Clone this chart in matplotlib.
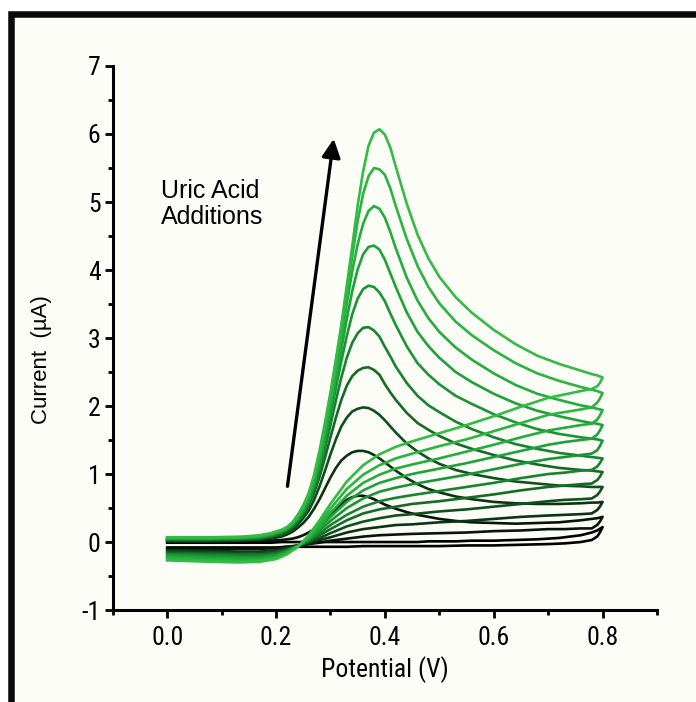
import matplotlib
matplotlib.use("Agg")
import matplotlib.pyplot as plt
import matplotlib.font_manager as fm
from matplotlib.patches import Rectangle
from matplotlib.ticker import MultipleLocator

# potential (V) for the forward and the reverse sweep
fwd_v = [0.00, 0.08, 0.14, 0.17, 0.19,
         0.21, 0.22, 0.23, 0.24, 0.25, 0.26, 0.27, 0.28, 0.29, 0.30, 0.31,
         0.32, 0.33, 0.34, 0.35, 0.36, 0.37, 0.38, 0.39, 0.40, 0.41, 0.42,
         0.44, 0.46, 0.48, 0.50,
         0.53, 0.56, 0.60, 0.64, 0.68, 0.72, 0.76,
         0.78, 0.79, 0.80]
rev_v = [0.80, 0.795, 0.79,
         0.78, 0.76, 0.73, 0.70, 0.65, 0.60, 0.55, 0.50, 0.45, 0.42, 0.39, 0.36,
         0.33, 0.30, 0.28, 0.26,
         0.24, 0.22, 0.20, 0.17, 0.13, 0.08, 0.00]

# current (uA): blank first, then one row per addition
fwd_i = [
    [-0.01, -0.01, -0.01, -0.01, -0.01,
     0.00, 0.00, 0.00, 0.00, 0.00, 0.00, 0.00, 0.00, 0.00, 0.00, 0.00,
     0.00, 0.00, 0.00, 0.00, 0.00, 0.00, 0.00, 0.00, 0.00, 0.00, 0.00,
     0.00, 0.00, 0.01, 0.01,
     0.01, 0.02, 0.02, 0.03, 0.04, 0.06, 0.10,
     0.14, 0.17, 0.22],
    [0.01, 0.01, 0.01, 0.01, 0.02,
     0.03, 0.04, 0.05, 0.07, 0.10, 0.14, 0.19, 0.25, 0.32, 0.40, 0.48,
     0.56, 0.62, 0.66, 0.68, 0.68, 0.66, 0.63, 0.59, 0.55, 0.52, 0.49,
     0.44, 0.40, 0.37, 0.34,
     0.31, 0.29, 0.28, 0.27, 0.28, 0.29, 0.32,
     0.34, 0.35, 0.37],
    [0.01, 0.01, 0.02, 0.03, 0.05,
     0.08, 0.11, 0.15, 0.21, 0.28, 0.37, 0.49, 0.63, 0.79, 0.95, 1.09,
     1.20, 1.27, 1.32, 1.34, 1.34, 1.32, 1.28, 1.23, 1.17, 1.11, 1.05,
     0.94, 0.85, 0.78, 0.73,
     0.67, 0.63, 0.59, 0.57, 0.56, 0.56, 0.57,
     0.58, 0.58, 0.59],
    [0.02, 0.02, 0.03, 0.04, 0.07,
     0.10, 0.14, 0.19, 0.26, 0.35, 0.46, 0.62, 0.82, 1.05, 1.29, 1.51,
     1.70, 1.83, 1.92, 1.96, 1.98, 1.97, 1.93, 1.87, 1.79, 1.70, 1.61,
     1.45, 1.33, 1.23, 1.15,
     1.06, 1.00, 0.94, 0.89, 0.86, 0.83, 0.82,
     0.81, 0.81, 0.81],
    [0.03, 0.03, 0.04, 0.05, 0.08,
     0.12, 0.16, 0.22, 0.30, 0.40, 0.53, 0.72, 0.96, 1.24, 1.54, 1.83,
     2.09, 2.30, 2.44, 2.52, 2.56, 2.57, 2.53, 2.46, 2.32, 2.20, 2.09,
     1.90, 1.75, 1.65, 1.56,
     1.45, 1.37, 1.28, 1.20, 1.14, 1.09, 1.06,
     1.05, 1.04, 1.03],
    [0.04, 0.04, 0.05, 0.06, 0.09,
     0.14, 0.18, 0.24, 0.32, 0.43, 0.57, 0.78, 1.05, 1.37, 1.72, 2.08,
     2.42, 2.71, 2.93, 3.07, 3.15, 3.16, 3.11, 3.02, 2.87, 2.73, 2.58,
     2.34, 2.15, 2.01, 1.91,
     1.77, 1.66, 1.54, 1.44, 1.37, 1.31, 1.27,
     1.25, 1.24, 1.23],
    [0.05, 0.05, 0.06, 0.07, 0.10,
     0.15, 0.19, 0.25, 0.33, 0.45, 0.60, 0.83, 1.12, 1.47, 1.85, 2.26,
     2.66, 3.03, 3.35, 3.58, 3.72, 3.77, 3.75, 3.67, 3.54, 3.36, 3.19,
     2.88, 2.63, 2.46, 2.32,
     2.15, 2.03, 1.88, 1.76, 1.66, 1.59, 1.54,
     1.52, 1.51, 1.49],
    [0.05, 0.05, 0.06, 0.08, 0.11,
     0.16, 0.20, 0.26, 0.35, 0.47, 0.63, 0.87, 1.18, 1.55, 1.95, 2.39,
     2.83, 3.28, 3.69, 4.01, 4.23, 4.34, 4.36, 4.30, 4.15, 3.95, 3.75,
     3.38, 3.09, 2.88, 2.71,
     2.50, 2.35, 2.18, 2.04, 1.93, 1.85, 1.78,
     1.75, 1.74, 1.72],
    [0.06, 0.06, 0.07, 0.09, 0.12,
     0.17, 0.20, 0.27, 0.36, 0.49, 0.66, 0.91, 1.24, 1.62, 2.04, 2.50,
     2.98, 3.50, 3.98, 4.38, 4.68, 4.87, 4.94, 4.90, 4.77, 4.56, 4.32,
     3.89, 3.55, 3.29, 3.09,
     2.86, 2.68, 2.48, 2.31, 2.18, 2.09, 2.01,
     1.98, 1.96, 1.94],
    [0.06, 0.06, 0.07, 0.09, 0.12,
     0.17, 0.21, 0.28, 0.38, 0.51, 0.69, 0.95, 1.29, 1.69, 2.12, 2.60,
     3.10, 3.65, 4.20, 4.72, 5.12, 5.38, 5.50, 5.48, 5.40, 5.20, 4.94,
     4.46, 4.06, 3.75, 3.51,
     3.24, 3.04, 2.82, 2.63, 2.48, 2.37, 2.28,
     2.24, 2.22, 2.19],
    [0.07, 0.07, 0.08, 0.10, 0.13,
     0.18, 0.22, 0.29, 0.40, 0.54, 0.72, 0.99, 1.35, 1.76, 2.20, 2.69,
     3.20, 3.77, 4.35, 4.95, 5.45, 5.83, 6.02, 6.07, 5.99, 5.80, 5.52,
     4.98, 4.52, 4.17, 3.90,
     3.60, 3.37, 3.12, 2.91, 2.74, 2.62, 2.52,
     2.47, 2.45, 2.42],
]
rev_i = [
    [0.22, 0.14, 0.08,
     0.03, 0.00, -0.02, -0.03, -0.04, -0.05, -0.05, -0.06, -0.06, -0.06, -0.06, -0.06,
     -0.07, -0.07, -0.07, -0.07,
     -0.07, -0.07, -0.08, -0.08, -0.08, -0.08, -0.08],
    [0.37, 0.30, 0.25,
     0.20, 0.20, 0.19, 0.19, 0.17, 0.16, 0.14, 0.13, 0.12, 0.11, 0.10, 0.08,
     0.05, 0.02, -0.01, -0.03,
     -0.05, -0.07, -0.09, -0.10, -0.10, -0.10, -0.10],
    [0.59, 0.52, 0.47,
     0.42, 0.41, 0.40, 0.39, 0.37, 0.34, 0.31, 0.29, 0.26, 0.25, 0.22, 0.19,
     0.14, 0.07, 0.03, -0.02,
     -0.05, -0.09, -0.12, -0.14, -0.14, -0.13, -0.12],
    [0.81, 0.74, 0.69,
     0.64, 0.63, 0.62, 0.60, 0.56, 0.52, 0.48, 0.45, 0.41, 0.39, 0.35, 0.30,
     0.23, 0.13, 0.06, 0.00,
     -0.05, -0.10, -0.14, -0.16, -0.16, -0.15, -0.14],
    [1.03, 0.96, 0.91,
     0.86, 0.85, 0.83, 0.81, 0.76, 0.70, 0.65, 0.60, 0.56, 0.52, 0.48, 0.42,
     0.32, 0.19, 0.10, 0.01,
     -0.06, -0.12, -0.16, -0.18, -0.18, -0.17, -0.16],
    [1.23, 1.16, 1.11,
     1.06, 1.05, 1.02, 1.00, 0.94, 0.87, 0.81, 0.75, 0.69, 0.65, 0.60, 0.52,
     0.40, 0.25, 0.13, 0.02,
     -0.06, -0.13, -0.18, -0.20, -0.20, -0.19, -0.18],
    [1.49, 1.41, 1.35,
     1.30, 1.28, 1.25, 1.22, 1.15, 1.07, 0.99, 0.92, 0.85, 0.80, 0.74, 0.64,
     0.50, 0.31, 0.17, 0.04,
     -0.06, -0.14, -0.19, -0.22, -0.22, -0.21, -0.19],
    [1.72, 1.64, 1.58,
     1.52, 1.50, 1.47, 1.43, 1.34, 1.25, 1.16, 1.08, 1.00, 0.94, 0.87, 0.76,
     0.59, 0.37, 0.20, 0.05,
     -0.06, -0.15, -0.21, -0.24, -0.24, -0.23, -0.21],
    [1.94, 1.86, 1.80,
     1.74, 1.72, 1.68, 1.64, 1.54, 1.43, 1.33, 1.23, 1.14, 1.08, 0.99, 0.87,
     0.68, 0.43, 0.24, 0.07,
     -0.06, -0.16, -0.22, -0.26, -0.26, -0.25, -0.23],
    [2.19, 2.11, 2.05,
     1.98, 1.95, 1.91, 1.87, 1.75, 1.63, 1.51, 1.41, 1.30, 1.23, 1.13, 0.99,
     0.78, 0.49, 0.28, 0.08,
     -0.07, -0.17, -0.24, -0.27, -0.28, -0.27, -0.25],
    [2.42, 2.34, 2.29,
     2.25, 2.22, 2.17, 2.12, 1.99, 1.85, 1.72, 1.60, 1.48, 1.40, 1.29, 1.13,
     0.89, 0.56, 0.32, 0.10,
     -0.07, -0.18, -0.25, -0.29, -0.30, -0.29, -0.27],
]
colors = ["#000000", "#06140a", "#0d3315", "#11501e", "#156a27", "#188230",
          "#1b9435", "#1ea23a", "#24ac3d", "#2bb440", "#33bb44"]

xticks = [0.0, 0.2, 0.4, 0.6, 0.8]
yticks = [-1, 0, 1, 2, 3, 4, 5, 6, 7]

CREAM = "#fdfdf7"
PLAIN = ["Liberation Sans", "DejaVu Sans"]


def pick_narrow():
    # a condensed sans if one is installed, else plain Liberation Sans
    for f in fm.fontManager.ttflist:
        if f.name in ("Liberation Sans Narrow", "Roboto Condensed", "Open Sans Condensed"):
            return f.name, "normal"
    for f in fm.fontManager.ttflist:
        if f.name in ("Noto Sans", "Open Sans", "Roboto") and f.stretch == "condensed":
            return f.name, "condensed"
    return "Liberation Sans", "normal"


narrow, stretch = pick_narrow()
plt.rcParams["font.family"] = [narrow, "DejaVu Sans"]
plt.rcParams["font.stretch"] = stretch
plt.rcParams["axes.unicode_minus"] = False

fig = plt.figure(figsize=(6.96, 7.02), dpi=100, facecolor="white")

# black frame round the picture, cut off at the right and bottom
frame = Rectangle((0.0158, -0.1), 1.2, 1.0805, transform=fig.transFigure,
                  facecolor=CREAM, edgecolor="#0a0a0a", lw=4.7, zorder=-10)
fig.patches.append(frame)

ax = fig.add_axes([0.162, 0.131, 0.782, 0.775])
ax.set_facecolor("none")

for k in range(len(fwd_i)):
    v = fwd_v + rev_v[1:]
    i = fwd_i[k] + rev_i[k][1:]
    ax.plot(v, i, color=colors[k], lw=1.9, solid_joinstyle="round", zorder=2 + k)

ax.set_xlim(-0.1, 0.9)
ax.set_ylim(-1, 7)
ax.set_xticks(xticks)
ax.set_xticklabels([f"{t:.1f}" for t in xticks])
ax.set_yticks(yticks)
ax.xaxis.set_minor_locator(MultipleLocator(0.1))
ax.yaxis.set_minor_locator(MultipleLocator(0.5))

for s in ["top", "right"]:
    ax.spines[s].set_visible(False)
for s in ["left", "bottom"]:
    ax.spines[s].set_linewidth(2.2)
ax.tick_params(which="major", direction="out", length=5.8, width=2.0, labelsize=18.5)
ax.tick_params(axis="x", which="major", pad=6)
ax.tick_params(axis="y", which="major", pad=3)
ax.tick_params(which="minor", direction="out", length=3.5, width=2.0)

ax.set_xlabel("Potential (V)", fontsize=18.5, labelpad=4)
ax.set_ylabel("Current  (\u00b5A)", fontsize=16, family=PLAIN, fontstretch="normal")
ax.yaxis.set_label_coords(-0.112, 0.46)

ax.annotate("", xy=(0.306, 5.93), xytext=(0.221, 0.82),
            arrowprops=dict(arrowstyle="-|>", color="black", lw=2.4, mutation_scale=28,
                            shrinkA=0, shrinkB=0))
ax.text(-0.011, 5.34, "Uric Acid\nAdditions", fontsize=18, family=PLAIN,
        fontstretch="normal", ha="left", va="top", linespacing=1.1)

fig.savefig("out.png", dpi=100, facecolor=fig.get_facecolor())
